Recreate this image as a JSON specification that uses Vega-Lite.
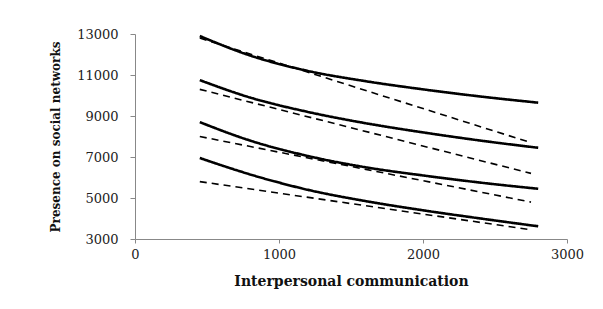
{
  "$schema": "https://vega.github.io/schema/vega-lite/v6.json",
  "autosize": {"type": "none"},
  "padding": {"left": 135, "top": 34, "right": 36, "bottom": 70},
  "width": 432,
  "height": 205,
  "background": "white",
  "config": {"view": {"stroke": null}},
  "data": {"values": [
    {"s": "S1", "t": "solid", "x": 450, "y": 12900},
    {"s": "S1", "t": "solid", "x": 800, "y": 11950},
    {"s": "S1", "t": "solid", "x": 1200, "y": 11200},
    {"s": "S1", "t": "solid", "x": 1600, "y": 10700},
    {"s": "S1", "t": "solid", "x": 2000, "y": 10300},
    {"s": "S1", "t": "solid", "x": 2400, "y": 9950},
    {"s": "S1", "t": "solid", "x": 2800, "y": 9650},
    {"s": "S2", "t": "solid", "x": 450, "y": 10750},
    {"s": "S2", "t": "solid", "x": 800, "y": 9900},
    {"s": "S2", "t": "solid", "x": 1200, "y": 9200},
    {"s": "S2", "t": "solid", "x": 1600, "y": 8650},
    {"s": "S2", "t": "solid", "x": 2000, "y": 8200},
    {"s": "S2", "t": "solid", "x": 2400, "y": 7800},
    {"s": "S2", "t": "solid", "x": 2800, "y": 7450},
    {"s": "S3", "t": "solid", "x": 450, "y": 8700},
    {"s": "S3", "t": "solid", "x": 800, "y": 7800},
    {"s": "S3", "t": "solid", "x": 1200, "y": 7050},
    {"s": "S3", "t": "solid", "x": 1600, "y": 6500},
    {"s": "S3", "t": "solid", "x": 2000, "y": 6100},
    {"s": "S3", "t": "solid", "x": 2400, "y": 5750},
    {"s": "S3", "t": "solid", "x": 2800, "y": 5450},
    {"s": "S4", "t": "solid", "x": 450, "y": 6950},
    {"s": "S4", "t": "solid", "x": 800, "y": 6150},
    {"s": "S4", "t": "solid", "x": 1200, "y": 5400},
    {"s": "S4", "t": "solid", "x": 1600, "y": 4850},
    {"s": "S4", "t": "solid", "x": 2000, "y": 4400},
    {"s": "S4", "t": "solid", "x": 2400, "y": 4000},
    {"s": "S4", "t": "solid", "x": 2800, "y": 3620},
    {"s": "D1", "t": "dashed", "x": 450, "y": 12800},
    {"s": "D1", "t": "dashed", "x": 2750, "y": 7700},
    {"s": "D2", "t": "dashed", "x": 450, "y": 10300},
    {"s": "D2", "t": "dashed", "x": 2750, "y": 6200},
    {"s": "D3", "t": "dashed", "x": 450, "y": 8000},
    {"s": "D3", "t": "dashed", "x": 2750, "y": 4800},
    {"s": "D4", "t": "dashed", "x": 450, "y": 5800},
    {"s": "D4", "t": "dashed", "x": 2750, "y": 3450}
  ]},
  "mark": {"type": "line", "color": "black", "interpolate": "monotone"},
  "encoding": {
    "x": {
      "field": "x", "type": "quantitative",
      "scale": {"domain": [0, 3000], "nice": false},
      "axis": {
        "values": [0, 1000, 2000, 3000],
        "format": "d",
        "title": "Interpersonal communication",
        "titleFont": "DejaVu Serif", "titleFontSize": 14, "titleFontWeight": "bold", "titleColor": "#111",
        "titlePadding": 13,
        "labelFont": "DejaVu Serif", "labelFontSize": 13, "labelColor": "#222", "labelPadding": 5,
        "domainColor": "#888", "tickColor": "#888", "tickSize": 4, "grid": false, "labelFlush": false
      }
    },
    "y": {
      "field": "y", "type": "quantitative",
      "scale": {"domain": [3000, 13000], "nice": false, "zero": false},
      "axis": {
        "values": [3000, 5000, 7000, 9000, 11000, 13000],
        "format": "d",
        "title": "Presence on social networks",
        "titleFont": "DejaVu Serif", "titleFontSize": 12, "titleFontWeight": "bold", "titleColor": "#111",
        "titlePadding": 14,
        "labelFont": "DejaVu Serif", "labelFontSize": 13, "labelColor": "#222", "labelPadding": 12,
        "domainColor": "#888", "tickColor": "#888", "tickSize": 5, "grid": false, "labelFlush": false
      }
    },
    "detail": {"field": "s"},
    "strokeDash": {
      "field": "t", "type": "nominal",
      "scale": {"domain": ["solid", "dashed"], "range": [[1, 0], [7, 5]]},
      "legend": null
    },
    "strokeWidth": {
      "field": "t", "type": "nominal",
      "scale": {"domain": ["solid", "dashed"], "range": [2.6, 1.6]},
      "legend": null
    }
  }
}
